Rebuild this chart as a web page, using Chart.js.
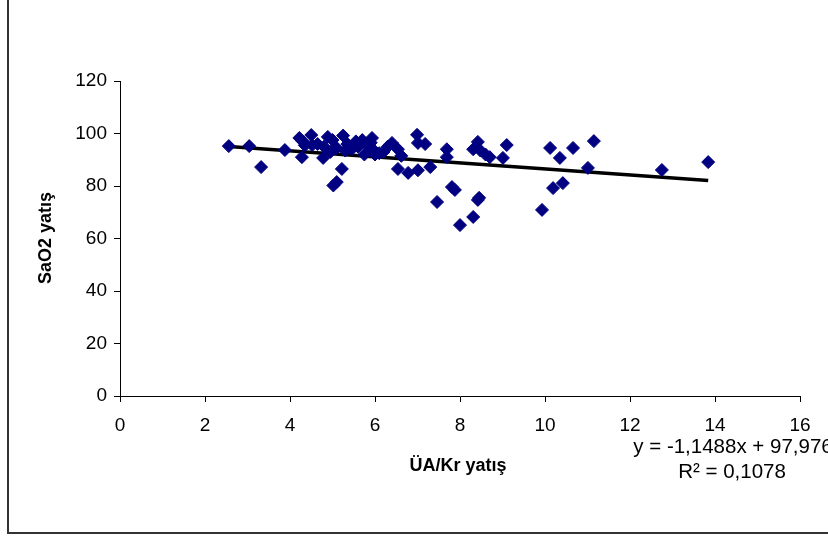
<!DOCTYPE html>
<html>
<head>
<meta charset="utf-8">
<script src="https://cdn.jsdelivr.net/npm/chart.js@4"></script>
<style>
  body { margin: 0; background: #fff; }
  .chart-box { position: relative; width: 828px; height: 537px; }
</style>
</head>
<body>
<div class="chart-box"><canvas id="scatterChart"></canvas></div>
<script>
// ÜA/Kr yatış values
const uaKr = [
    2.56, 3.04, 3.32, 3.88, 4.22, 4.28, 4.35, 4.50, 4.52, 4.78,
    4.89, 4.80, 5.02, 5.10, 5.22, 5.25, 5.10, 5.35, 5.55, 5.70,
    5.93, 5.98, 5.85, 6.10, 6.40, 6.54, 6.62, 6.54, 6.78, 6.99,
    7.01, 7.01, 7.18, 7.30, 7.46, 7.69, 7.69, 7.81, 7.88, 8.00,
    8.31, 8.31, 8.42, 8.48, 8.60, 8.70, 8.42, 8.45, 9.01, 9.10,
    9.93, 10.12, 10.19, 10.35, 10.42, 10.66, 11.01, 11.15, 12.75, 13.84,
    4.30, 4.65, 5.00, 5.45, 5.60, 5.90, 6.00, 6.20, 4.95, 5.30,
    5.75, 6.30
];
// SaO2 yatış values
const sao2 = [
    95.2, 95.2, 87.2, 93.7, 98.3, 91.0, 95.5, 99.4, 95.6, 90.7,
    98.7, 95.0, 80.2, 81.5, 86.5, 99.2, 94.5, 96.0, 97.0, 97.5,
    98.3, 93.5, 95.0, 92.5, 96.4, 94.0, 91.5, 86.5, 85.0, 99.5,
    96.4, 86.0, 96.0, 87.2, 73.9, 94.0, 91.0, 79.6, 78.5, 65.1,
    68.2, 94.0, 96.8, 93.5, 92.0, 91.0, 74.7, 75.5, 90.7, 95.6,
    70.9, 94.5, 79.2, 90.7, 81.1, 94.5, 86.9, 97.1, 86.1, 89.1,
    97.0, 96.0, 97.5, 94.0, 95.0, 96.5, 92.0, 93.0, 93.0, 93.5,
    92.0, 95.0
];
const xTicks = [0, 2, 4, 6, 8, 10, 12, 14, 16];
const yTicks = [0, 20, 40, 60, 80, 100, 120];

// linear trendline from the reference
const slope = -1.1488;
const intercept = 97.976;
const rSquared = '0,1078';

const points = uaKr.map((x, i) => ({ x: x, y: sao2[i] }));
const xMin = Math.min(...uaKr);
const xMax = Math.max(...uaKr);
const trend = [
    { x: xMin, y: slope * xMin + intercept },
    { x: xMax, y: slope * xMax + intercept }
];

// frame, axis titles and trendline label
const extras = {
    id: 'extras',
    afterDraw(chart) {
        const ctx = chart.ctx;
        ctx.save();
        ctx.strokeStyle = '#333';
        ctx.lineWidth = 2;
        ctx.beginPath();
        ctx.moveTo(8, 0);
        ctx.lineTo(8, 533);
        ctx.lineTo(828, 533);
        ctx.stroke();

        ctx.fillStyle = '#000';
        ctx.textAlign = 'center';
        ctx.textBaseline = 'middle';
        ctx.font = 'bold 18px "Liberation Sans", Arial, sans-serif';
        ctx.fillText('ÜA/Kr yatış', 458, 466);

        ctx.translate(46, 238);
        ctx.rotate(-Math.PI / 2);
        ctx.fillText('SaO2 yatış', 0, 0);
        ctx.setTransform(1, 0, 0, 1, 0, 0);

        ctx.font = '20.5px "Liberation Sans", Arial, sans-serif';
        ctx.fillText('y = -1,1488x + 97,976', 733, 447);
        ctx.fillText('R² = ' + rSquared, 732, 472);
        ctx.restore();
    }
};

const axisFont = { family: '"Liberation Sans", Arial, sans-serif', size: 19 };

new Chart(document.getElementById('scatterChart'), {
    type: 'scatter',
    data: {
        datasets: [{
            label: 'SaO2',
            data: points,
            pointStyle: 'rectRot',
            pointRadius: 6.5,
            pointHoverRadius: 6.5,
            backgroundColor: '#000080',
            borderColor: '#000080',
            borderWidth: 1
        }, {
            type: 'line',
            label: 'Trend',
            data: trend,
            borderColor: '#000',
            borderWidth: 3.5,
            pointRadius: 0,
            fill: false
        }]
    },
    plugins: [extras],
    options: {
        responsive: true,
        maintainAspectRatio: false,
        animation: false,
        layout: { padding: { top: 81, right: 28, left: 0, bottom: 0 } },
        plugins: { legend: { display: false }, tooltip: { enabled: false } },
        scales: {
            x: {
                type: 'linear',
                min: xTicks[0],
                max: xTicks[xTicks.length - 1],
                afterBuildTicks: (scale) => { scale.ticks = xTicks.map(v => ({ value: v })); },
                afterFit: (scale) => { scale.height = 141; },
                ticks: { color: '#000', font: axisFont, padding: 12, maxRotation: 0 },
                grid: { drawOnChartArea: false, color: '#000', tickLength: 6 },
                border: { color: '#000', width: 1 }
            },
            y: {
                min: yTicks[0],
                max: yTicks[yTicks.length - 1],
                afterBuildTicks: (scale) => { scale.ticks = yTicks.map(v => ({ value: v })); },
                afterFit: (scale) => { scale.width = 120; },
                ticks: { color: '#000', font: axisFont, padding: 7 },
                grid: { drawOnChartArea: false, color: '#000', tickLength: 6 },
                border: { color: '#000', width: 1 }
            }
        }
    }
});
</script>
</body>
</html>
